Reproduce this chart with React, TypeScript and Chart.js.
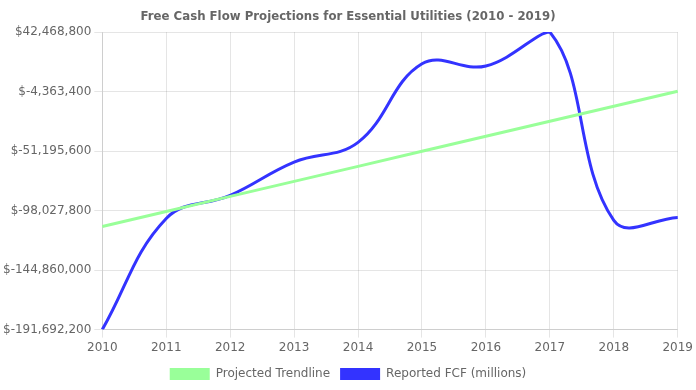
import React, { useEffect, useRef } from "react";
import { Chart, registerables } from "chart.js";

Chart.register(...registerables);

const years = ["2010", "2011", "2012", "2013", "2014", "2015", "2016", "2017", "2018", "2019"];
const trendline = [-110500000, -98700000, -86800000, -75000000, -63200000, -51300000, -39500000, -27700000, -15900000, -4050000];
const reported = [-191692200, -104200000, -86000000, -59800000, -44300000, 17500000, 15800000, 42468800, -105800000, -103400000];
const yMin = -191692200;
const yMax = 42468800;
const yStep = 46832200;
const titleText = "Free Cash Flow Projections for Essential Utilities (2010 - 2019)";

export default function App() {
  const ref = useRef<HTMLCanvasElement>(null);
  useEffect(() => {
    if (!ref.current) return;
    Chart.defaults.font.family = "'DejaVu Sans', sans-serif";
    Chart.defaults.color = "#666";
    const chart = new Chart(ref.current, {
      type: "line",
      data: {
        labels: years,
        datasets: [
          {
            label: "Projected Trendline",
            data: trendline,
            borderColor: "rgb(153,255,153)",
            backgroundColor: "rgb(153,255,153)",
            borderWidth: 3,
            pointRadius: 0,
            fill: false,
            tension: 0,
          },
          {
            label: "Reported FCF (millions)",
            data: reported,
            borderColor: "rgb(51,51,255)",
            backgroundColor: "rgb(51,51,255)",
            borderWidth: 3,
            pointRadius: 0,
            fill: false,
            tension: 0.4,
          },
        ],
      },
      options: {
        animation: false,
        responsive: false,
        maintainAspectRatio: false,
        plugins: {
          title: {
            display: true,
            text: titleText,
            font: { size: 11.75, weight: "bold" },
            color: "#666",
            padding: { top: 10, bottom: 8 },
          },
          legend: {
            position: "bottom",
            labels: {
              boxWidth: 40,
              boxHeight: 12,
              font: { size: 12 },
              color: "#666",
              generateLabels: (c: any) =>
                Chart.defaults.plugins.legend.labels.generateLabels(c).map((l: any) => ({
                  ...l,
                  lineWidth: 0,
                  strokeStyle: "rgba(0,0,0,0)",
                })),
            },
          },
          tooltip: { enabled: false },
        },
        scales: {
          x: {
            grid: { color: "rgba(0,0,0,0.1)" },
            ticks: { font: { size: 12 }, color: "#666" },
          },
          y: {
            min: yMin,
            max: yMax,
            ticks: {
              stepSize: yStep,
              font: { size: 12 },
              color: "#666",
              callback: (v: any) => "$" + Number(v).toLocaleString("en-US"),
            },
            grid: { color: "rgba(0,0,0,0.1)" },
          },
        },
      },
    });
    return () => chart.destroy();
  }, []);
  return (
    <div style={{ position: "absolute", left: 0, top: 0, width: 696, height: 390 }}>
      <canvas ref={ref} width={696} height={390} style={{ width: 696, height: 390 }} />
    </div>
  );
}
